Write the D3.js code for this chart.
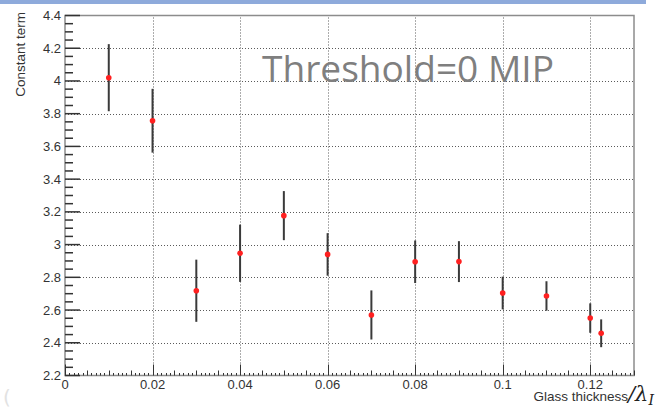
<!DOCTYPE html>
<html>
<head>
<meta charset="utf-8">
<script src="https://cdn.jsdelivr.net/npm/d3@7"></script>
<style>
  body { margin: 0; background: white; }
</style>
</head>
<body>
<script>
// values
let thickness = [0.01, 0.02, 0.03, 0.04, 0.05, 0.06, 0.07, 0.08, 0.09, 0.10, 0.11, 0.12, 0.1225]
let constant  = [4.02, 3.757, 2.718, 2.947, 3.177, 2.94, 2.57, 2.895, 2.896, 2.704, 2.686, 2.551, 2.458]
let errors    = [0.205, 0.195, 0.19, 0.175, 0.15, 0.13, 0.15, 0.13, 0.125, 0.10, 0.09, 0.09, 0.085]

let xTicks = [0, 0.02, 0.04, 0.06, 0.08, 0.10, 0.12]
let xLabels = ["0", "0.02", "0.04", "0.06", "0.08", "0.1", "0.12"]
let yTicks = [2.2, 2.4, 2.6, 2.8, 3.0, 3.2, 3.4, 3.6, 3.8, 4.0, 4.2, 4.4]
let yLabels = ["2.2", "2.4", "2.6", "2.8", "3", "3.2", "3.4", "3.6", "3.8", "4", "4.2", "4.4"]

let title = "Threshold=0 MIP"
let yTitle = "Constant term"
let xTitle = "Glass thickness"

function setCanvas(w, h) {
    return d3.select("body")
        .append("svg")
        .attr("width", w)
        .attr("height", h)
}

function draw() {
    const w = 665, h = 410
    const c = {
        blue:  "#8eaadb",
        frame: "#8c8c8c",
        grid:  "#5a5a5a",
        text:  "#333333",
        bar:   "#3a3a3a",
        red:   "#ff2020",
        title: "#7f7f7f",
    }
    const svg = setCanvas(w, h)

    // blue strip on top
    svg.append("rect")
        .attr("x", 0).attr("y", 0)
        .attr("width", 646).attr("height", 4)
        .attr("fill", c.blue)

    const x = d3.scaleLinear().domain([0, 0.13]).range([65, 634])
    const y = d3.scaleLinear().domain([2.2, 4.4]).range([375.5, 15.5])

    // grid
    const grid = svg.append("g")
        .attr("stroke", c.grid)
        .attr("stroke-width", 1)
        .attr("stroke-dasharray", "1,2")
    grid.selectAll("line.h")
        .data(yTicks.slice(1, -1))
        .join("line")
            .attr("class", "h")
            .attr("x1", x(0)).attr("x2", x(0.13))
            .attr("y1", d => Math.round(y(d)) + 0.5)
            .attr("y2", d => Math.round(y(d)) + 0.5)
    grid.selectAll("line.v")
        .data(xTicks.slice(1))
        .join("line")
            .attr("class", "v")
            .attr("y1", y(2.2)).attr("y2", y(4.4))
            .attr("x1", d => Math.round(x(d)) + 0.5)
            .attr("x2", d => Math.round(x(d)) + 0.5)

    // frame
    svg.append("rect")
        .attr("x", x(0)).attr("y", y(4.4))
        .attr("width", x(0.13) - x(0))
        .attr("height", y(2.2) - y(4.4))
        .attr("fill", "none")
        .attr("stroke", c.frame)
        .attr("stroke-width", 1.5)

    // y axis ticks
    const yMinor = d3.range(2.2, 4.4001, 0.05)
    svg.append("g")
        .attr("stroke", c.text)
        .attr("stroke-width", 1.5)
        .selectAll("line")
        .data(yMinor)
        .join("line")
            .attr("x1", x(0))
            .attr("x2", (d, i) => x(0) + (i % 4 === 0 ? 15 : 8))
            .attr("y1", d => y(d)).attr("y2", d => y(d))

    // x axis ticks
    const xMinor = d3.range(0, 0.1301, 0.001)
    svg.append("g")
        .attr("stroke", c.text)
        .attr("stroke-width", 1)
        .selectAll("line")
        .data(xMinor)
        .join("line")
            .attr("x1", d => Math.round(x(d)) + 0.5)
            .attr("x2", d => Math.round(x(d)) + 0.5)
            .attr("y1", y(2.2))
            .attr("y2", (d, i) => y(2.2) - (i % 20 === 0 ? 11 : i % 5 === 0 ? 5 : 2.5))

    // tick labels
    const lab = svg.append("g")
        .attr("font-family", "'Liberation Sans', Arial, sans-serif")
        .attr("font-size", 13)
        .attr("fill", c.text)
    lab.selectAll("text.y")
        .data(yTicks)
        .join("text")
            .attr("class", "y")
            .attr("x", 61)
            .attr("y", d => y(d) + 4.5)
            .attr("text-anchor", "end")
            .text((d, i) => yLabels[i])
    lab.selectAll("text.x")
        .data(xTicks)
        .join("text")
            .attr("class", "x")
            .attr("x", d => x(d))
            .attr("y", 389)
            .attr("text-anchor", "middle")
            .text((d, i) => xLabels[i])

    // axis titles
    svg.append("text")
        .attr("transform", "translate(25,12) rotate(-90)")
        .attr("text-anchor", "end")
        .attr("font-family", "'Liberation Sans', Arial, sans-serif")
        .attr("font-size", 13.5)
        .attr("fill", c.text)
        .text(yTitle)

    svg.append("text")
        .attr("x", 628)
        .attr("y", 401)
        .attr("text-anchor", "end")
        .attr("font-family", "'Liberation Sans', Arial, sans-serif")
        .attr("font-size", 13.5)
        .attr("fill", c.text)
        .text(xTitle)
    const lam = svg.append("text")
        .attr("x", 628)
        .attr("y", 401)
        .attr("font-family", "'DejaVu Serif', serif")
        .attr("font-style", "italic")
        .attr("font-size", 21)
        .attr("fill", "#222")
    lam.append("tspan").text("/\u03bb")
    lam.append("tspan")
        .attr("font-size", 14)
        .attr("dy", 4)
        .text("I")

    // error bars
    const pts = thickness.map((t, i) => ({x: t, y: constant[i], e: errors[i]}))
    svg.append("g")
        .attr("stroke", c.bar)
        .attr("stroke-width", 2)
        .selectAll("line")
        .data(pts)
        .join("line")
            .attr("x1", d => x(d.x)).attr("x2", d => x(d.x))
            .attr("y1", d => y(d.y - d.e))
            .attr("y2", d => y(d.y + d.e))
    svg.append("g")
        .attr("fill", c.red)
        .selectAll("circle")
        .data(pts)
        .join("circle")
            .attr("cx", d => x(d.x))
            .attr("cy", d => y(d.y))
            .attr("r", 2.8)

    // big title
    const tt = svg.append("text")
        .attr("x", 262)
        .attr("y", 82)
        .attr("font-family", "'Open Sans', sans-serif")
        .attr("font-size", 33)
        .attr("fill", c.title)
        .text(title)
    const len = tt.node().getComputedTextLength()
    tt.attr("font-size", 33 * 292 / len)

    // faint mark at the lower left corner
    svg.append("text")
        .attr("x", 3)
        .attr("y", 404)
        .attr("font-family", "'DejaVu Sans', sans-serif")
        .attr("font-size", 20)
        .attr("fill", "#e2e2e2")
        .text("(")
}

draw()
</script>
</body>
</html>
